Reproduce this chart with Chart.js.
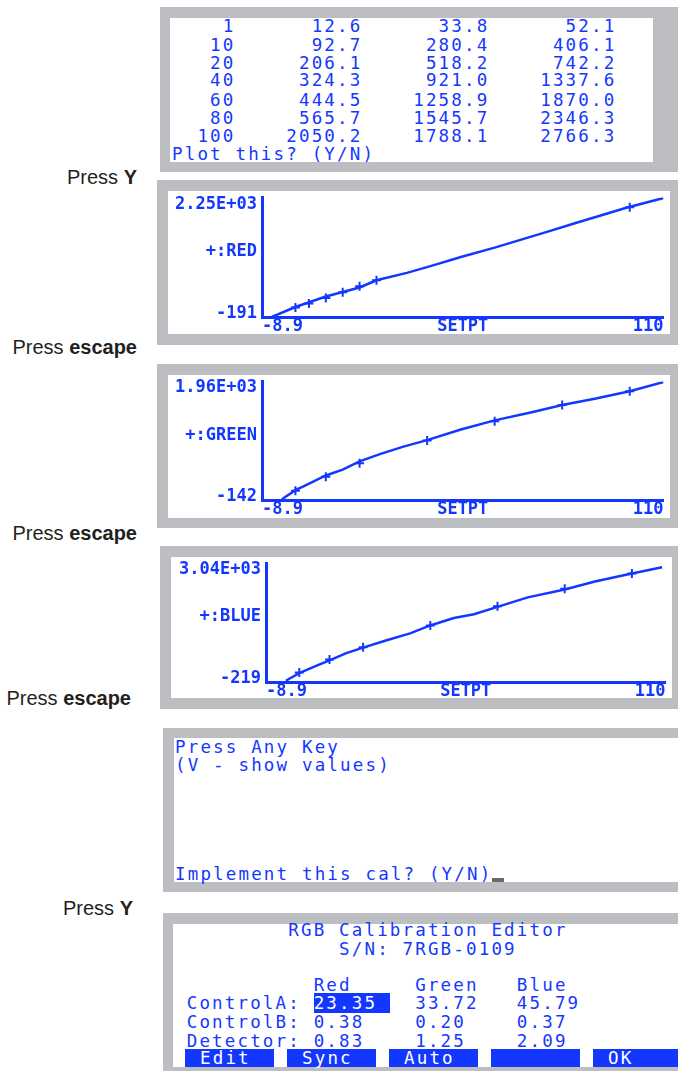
<!DOCTYPE html>
<html>
<head>
<meta charset="utf-8">
<script src="https://cdn.jsdelivr.net/npm/chart.js@4.4.1/dist/chart.umd.min.js"></script>
<style>
body { margin:0; width:678px; height:1071px; position:relative; overflow:hidden; background:#fff; }
.box { position:absolute; }
.term { position:absolute; font-family:'DejaVu Sans Mono', monospace; font-size:17.5px; letter-spacing:2.16px; line-height:18px; color:#1437ff; white-space:pre; }
.hl { background:#1437ff; color:#fff; }
.key { position:absolute; height:18px; background:#1437ff; color:#fff; font-family:'DejaVu Sans Mono', monospace; font-size:17.5px; letter-spacing:2.16px; line-height:18px; white-space:pre; padding-left:15px; box-sizing:border-box; }
.press { position:absolute; left:0; text-align:right; font-family:'Liberation Sans', Arial, sans-serif; font-size:20px; line-height:20px; color:#231f20; white-space:pre; }
canvas { position:absolute; }
</style>
</head>
<body>
<canvas id="redPlot"></canvas>
<canvas id="greenPlot"></canvas>
<canvas id="bluePlot"></canvas>
<script>
var BLUE = '#1437ff';
var GRAY = '#bdbec1';

// calibration table
var setpoints = [1, 10, 20, 40, 60, 80, 100];
var redValues = [12.6, 92.7, 206.1, 324.3, 444.5, 565.7, 2050.2];
var greenValues = [33.8, 280.4, 518.2, 921.0, 1258.9, 1545.7, 1788.1];
var blueValues = [52.1, 406.1, 742.2, 1337.6, 1870.0, 2346.3, 2766.3];
// the red plot puts its marks at these setpoints
var redSetpoints = [1, 5, 10, 15, 20, 25, 100];

// fitted curves as they appear on the plot screens
var redFitX = [-6, 1, 10, 20, 25, 34, 41, 50, 60, 75, 84, 99, 110];
var redFitY = [-180, 23, 235, 420, 566, 717, 855, 1040, 1230, 1540, 1730, 2040, 2240];
var greenFitX = [-3, 1, 4, 10, 15, 20, 26, 33, 40, 50, 60, 71, 80, 90, 100, 110];
var greenFitY = [-115, 43, 130, 303, 407, 551, 679, 811, 927, 1113, 1274, 1418, 1546, 1660, 1789, 1950];
var blueFitX = [-3, 1, 6, 10, 15, 20, 27, 34, 40, 47, 53, 60, 69, 80, 89, 100, 109];
var blueFitY = [-177, 32, 234, 383, 582, 731, 933, 1124, 1341, 1543, 1648, 1849, 2111, 2328, 2546, 2766, 2938];

var xRange = [-8.9, 110];
var xTickLabels = ['-8.9', 'SETPT', '110'];
var redRange = [-191, 2250];
var greenRange = [-142, 1960];
var blueRange = [-219, 3040];
var redTickLabels = ['-191', '+:RED', '2.25E+03'];
var greenTickLabels = ['-142', '+:GREEN', '1.96E+03'];
var blueTickLabels = ['-219', '+:BLUE', '3.04E+03'];

// editor screen
var channels = ['Red', 'Green', 'Blue'];
var controlA = ['23.35', '33.72', '45.79'];
var controlB = ['0.38', '0.20', '0.37'];
var detector = ['0.83', '1.25', '2.09'];
var softKeys = ['Edit', 'Sync', 'Auto', '', 'OK'];

function rect(x0, y0, x1, y1, color) {
  var d = document.createElement('div');
  d.className = 'box';
  d.style.left = x0 + 'px'; d.style.top = y0 + 'px';
  d.style.width = (x1 - x0) + 'px'; d.style.height = (y1 - y0) + 'px';
  d.style.background = color;
  document.body.insertBefore(d, document.body.firstChild);
  return d;
}
function panel(o, i) {
  // insert inner first so outer ends up underneath
  rect(i[0], i[1], i[2], i[3], '#fff');
  rect(o[0], o[1], o[2], o[3], GRAY);
}
function term(x, cy, html) {
  var d = document.createElement('div');
  d.className = 'term';
  d.style.left = x + 'px'; d.style.top = (cy - 9.5) + 'px';
  d.innerHTML = html;
  document.body.appendChild(d);
}
function press(right, cy, html) {
  var d = document.createElement('div');
  d.className = 'press';
  d.style.width = right + 'px'; d.style.top = (cy - 10) + 'px';
  d.innerHTML = html;
  document.body.appendChild(d);
}

panel([160, 7, 678, 172], [170, 18, 653, 162]);
panel([157, 180, 678, 345], [168, 191, 670, 334]);
panel([157, 364, 678, 528], [168, 375, 670, 518]);
panel([160, 546, 678, 709], [171, 557, 672, 698]);
panel([163, 728, 678, 892], [174, 738, 678, 882]);
panel([163, 913, 678, 1071], [173, 924, 678, 1067]);

// table screen
var rowY = [26.5, 45, 63.5, 80.5, 100, 118, 136.5];
setpoints.forEach(function(s, i) {
  term(172, rowY[i], String(s).padStart(5) + redValues[i].toFixed(1).padStart(10) +
    greenValues[i].toFixed(1).padStart(10) + blueValues[i].toFixed(1).padStart(10));
});
term(172, 154.5, 'Plot this? (Y/N)');

// prompt screen
term(175, 747, 'Press Any Key');
term(175, 765, '(V - show values)');
term(175, 874, 'Implement this cal? (Y/N)');
rect(492, 878, 504, 882, '#6b6b6b');
document.body.appendChild(document.body.firstChild);

// editor screen
term(174, 930.5, '         RGB Calibration Editor');
term(174, 949, '             S/N: 7RGB-0109');
term(174, 985, '           ' + channels.map(function(c) { return c.padEnd(8); }).join(''));
term(174, 1003.5, ' ControlA: <span class="hl">' + controlA[0] + ' </span>  ' + controlA[1].padEnd(8) + controlA[2]);
term(174, 1022, ' ControlB: ' + controlB.map(function(v) { return v.padEnd(8); }).join(''));
term(174, 1041, ' Detector: ' + detector.map(function(v) { return v.padEnd(8); }).join(''));
softKeys.forEach(function(k, i) {
  var d = document.createElement('div');
  d.className = 'key';
  var x = 185 + i * 102;
  d.style.left = x + 'px'; d.style.top = '1049px';
  d.style.width = Math.min(89, 678 - x) + 'px';
  d.textContent = k;
  document.body.appendChild(d);
});

press(137, 177, 'Press <b>Y</b>');
press(137, 347, 'Press <b>escape</b>');
press(137, 533, 'Press <b>escape</b>');
press(131, 698, 'Press <b>escape</b>');
press(133, 908, 'Press <b>Y</b>');

var tickFont = { family: 'DejaVu Sans Mono', weight: 'bold', size: 17, lineHeight: 1.1 };

function makePlot(id, box, fitX, fitY, markX, markY, yRange, yLabels) {
  var cv = document.getElementById(id);
  cv.width = box.w; cv.height = box.h;
  cv.style.left = box.x + 'px'; cv.style.top = box.y + 'px';
  var yMin = yRange[0], yMax = yRange[1];
  new Chart(cv, {
    type: 'scatter',
    data: {
      datasets: [
        {
          data: fitX.map(function(x, i) { return { x: x, y: fitY[i] }; }),
          showLine: true, borderColor: BLUE, borderWidth: 2.5, pointRadius: 0, tension: 0
        },
        {
          data: markX.map(function(x, i) { return { x: x, y: markY[i] }; }),
          pointStyle: 'cross', pointRadius: 4.5, pointBorderWidth: 2,
          borderColor: BLUE, backgroundColor: BLUE
        }
      ]
    },
    options: {
      responsive: false,
      animation: false,
      devicePixelRatio: 1,
      layout: { padding: { top: box.pt, right: box.pr, left: 0, bottom: 0 } },
      plugins: { legend: { display: false }, tooltip: { enabled: false } },
      scales: {
        x: {
          type: 'linear', min: xRange[0], max: xRange[1],
          grid: { display: false, drawTicks: false },
          border: { color: BLUE, width: 3 },
          afterBuildTicks: function(s) {
            s.ticks = [{ value: xRange[0] }, { value: (xRange[0] + xRange[1]) / 2 }, { value: xRange[1] }];
          },
          afterFit: function(s) { s.height = box.xh; s.paddingLeft = 0; s.paddingRight = 0; },
          ticks: {
            align: 'inner', padding: 0, maxRotation: 0, autoSkip: false,
            color: BLUE, font: tickFont,
            callback: function(v, i) { return xTickLabels[i]; }
          }
        },
        y: {
          type: 'linear', min: yMin, max: yMax,
          grid: { display: false, drawTicks: false },
          border: { color: BLUE, width: 3 },
          afterBuildTicks: function(s) {
            s.ticks = [0.035, 0.55, 0.945].map(function(f) { return { value: yMin + f * (yMax - yMin) }; });
          },
          afterFit: function(s) { s.width = box.yw; s.paddingTop = 0; s.paddingBottom = 0; },
          ticks: {
            padding: 5, autoSkip: false, color: BLUE, font: tickFont,
            callback: function(v, i) { return yLabels[i]; }
          }
        }
      }
    }
  });
}

makePlot('redPlot', { x: 168, y: 191, w: 502, h: 143, yw: 94, pr: 6, pt: 3.4, xh: 16.5 },
  redFitX, redFitY, redSetpoints, redValues, redRange, redTickLabels);
makePlot('greenPlot', { x: 168, y: 375, w: 502, h: 143, yw: 94, pr: 6, pt: 4.4, xh: 17.3 },
  greenFitX, greenFitY, setpoints, greenValues, greenRange, greenTickLabels);
makePlot('bluePlot', { x: 171, y: 557, w: 501, h: 141, yw: 95, pr: 5, pt: 0.8, xh: 15.7 },
  blueFitX, blueFitY, setpoints, blueValues, blueRange, blueTickLabels);
</script>
</body>
</html>
